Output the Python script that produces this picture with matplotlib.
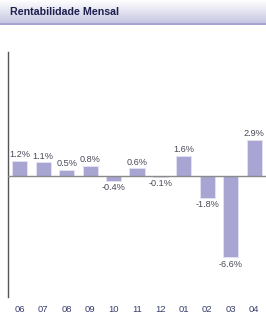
import numpy as np
import matplotlib.pyplot as plt

# -----------------------------
# Data
# -----------------------------
months = ["06", "07", "08", "09", "10", "11", "12", "01", "02", "03", "04"]
returns = [1.2, 1.1, 0.5, 0.8, -0.4, 0.6, -0.1, 1.6, -1.8, -6.6, 2.9]
title = "Rentabilidade Mensal"

W, H = 266, 320
fig = plt.figure(figsize=(W / 100, H / 100), dpi=100)
fig.patch.set_facecolor("white")

# -----------------------------
# Header band with gradient
# -----------------------------
hdr = fig.add_axes([0, 1 - 25 / H, 1, 25 / H])
grad = np.linspace(0, 1, 100).reshape(-1, 1)
top = np.array([1.0, 1.0, 1.0])
bot = np.array([0.76, 0.76, 0.88])
img = top + (bot - top) * grad[..., None]
hdr.imshow(img, aspect="auto", extent=[0, 1, 0, 1], origin="upper")
hdr.axhline(0.03, color="#a6a4d0", lw=2.2)
hdr.text(0.036, 0.52, title, fontsize=7.7, fontweight="bold",
         color="#1f1f4f", va="center", ha="left", family="Liberation Sans")
hdr.set_xlim(0, 1)
hdr.set_ylim(0, 1)
hdr.axis("off")

# -----------------------------
# Bar chart
# -----------------------------
ax = fig.add_axes([8 / W, 1 - 297 / H, 1 - 8 / W, (297 - 52) / H])
x = np.arange(len(months))
ax.bar(x, returns, width=0.64, color="#a8a5d3", edgecolor="#e4e3f2", linewidth=0.6, zorder=2)
ax.axhline(0, color="#8a8a8a", lw=1, zorder=3)

for xi, v in zip(x, returns):
    label = f"{v:.1f}%"
    if v >= 0:
        ax.text(xi, v + 0.12, label, ha="center", va="bottom", fontsize=6.6,
                color="#4a4a5a", family="Liberation Sans")
    else:
        ax.text(xi, v - 0.2, label, ha="center", va="top", fontsize=6.6,
                color="#4a4a5a", family="Liberation Sans")

ax.set_xlim(-0.5, 10.5)
ax.set_ylim(-9.8, 10.0)
ax.set_xticks(x)
ax.set_xticklabels(months, fontsize=6.8, color="#3a3f6e", family="Liberation Sans")
ax.tick_params(axis="x", length=0, pad=6)
ax.set_yticks([])
for s in ["top", "right", "bottom"]:
    ax.spines[s].set_visible(False)
ax.spines["left"].set_color("#555555")
ax.spines["left"].set_linewidth(1)

fig.savefig("out.png", dpi=100)
